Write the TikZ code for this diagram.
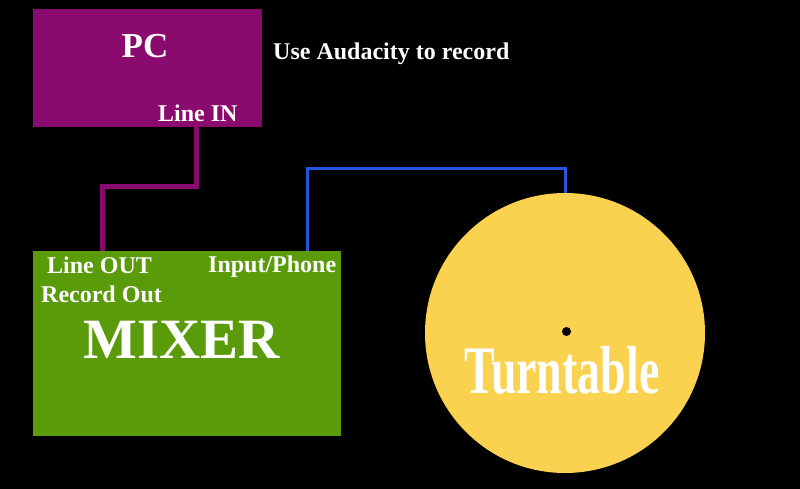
\documentclass[tikz,border=0pt]{standalone}
\usepackage{fontspec}
\setmainfont{Liberation Serif}

\definecolor{pcpurple}{RGB}{139,10,110}
\definecolor{mixgreen}{RGB}{90,155,10}
\definecolor{ttyellow}{RGB}{250,210,80}
\definecolor{wireblue}{RGB}{35,85,225}

\tikzset{
 box/.style={inner sep=0pt, outer sep=0pt},
 lbl/.style={text=white, inner sep=0pt, anchor=base west,
  font=\bfseries\fontsize{24}{24}\selectfont},
 pcwire/.style={draw=pcpurple, line width=5pt},
 ttwire/.style={draw=wireblue, line width=3pt},
}

\begin{document}
\begin{tikzpicture}[x=1pt, y=-1pt]
 \fill[black] (0,0) rectangle (800,489);
 \useasboundingbox (0,0) rectangle (800,489);

 % boxes
 \node[box, fill=pcpurple, minimum width=229pt, minimum height=118pt] (pc) at (147.5,68) {};
 \node[box, fill=mixgreen, minimum width=308pt, minimum height=185pt] (mixer) at (186.5,343.5) {};
 \node[box, circle, fill=ttyellow, minimum size=280pt] (tt) at (565,333) {};
 \fill[black] ([xshift=1.5pt,yshift=1.5pt]tt.center) circle (4.5pt);

 % cables
 \draw[pcwire] ([xshift=163pt]pc.south west) |- ([xshift=70pt,yshift=64pt]mixer.north west)
  -- ([xshift=70pt]mixer.north west);
 \draw[ttwire] ([xshift=275pt]mixer.north west) |- ([yshift=24pt]tt.north) -- (tt.north);

 % texts
 \node[lbl, anchor=base, font=\bfseries\fontsize{35}{35}\selectfont] (pctext) at (145,58) {PC};
 \node[lbl] (audacity) at (273,60) {Use Audacity to record};
 \node[lbl] (linein) at (158,122) {Line IN};
 \node[lbl] (lineout) at (47,273) {Line OUT};
 \node[lbl] (recout) at (41,302) {Record Out};
 \node[lbl] (phone) at (208,272) {Input/Phone};
 \node[lbl, anchor=base, font=\bfseries\fontsize{57}{57}\selectfont] (mixtext) at (182,358) {MIXER};
 \node[lbl, anchor=base, xscale=0.675, font=\bfseries\fontsize{68}{68}\selectfont] (tttext) at (562,393) {Turntable};
\end{tikzpicture}
\end{document}
